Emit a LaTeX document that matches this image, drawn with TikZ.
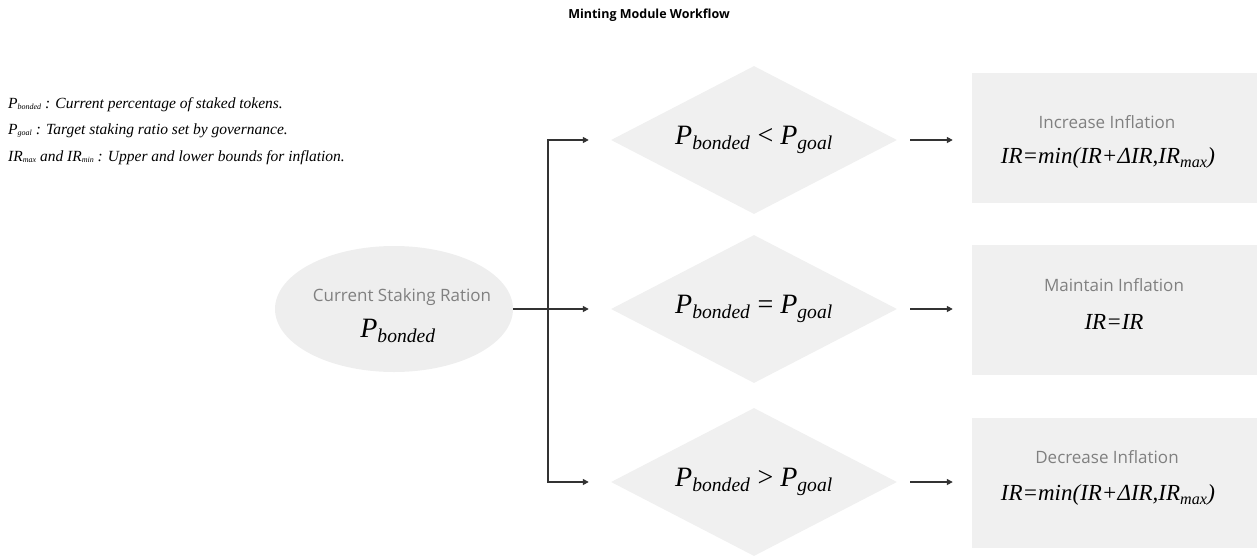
\documentclass[tikz,border=0pt]{standalone}
\usepackage{fontspec}
\setmainfont{Liberation Serif}
\setsansfont{Open Sans}
\usetikzlibrary{shapes.geometric,arrows.meta}
\definecolor{shapefill}{HTML}{F0F0F0}
\definecolor{ellfill}{HTML}{EEEEEE}
\definecolor{labelgray}{HTML}{808080}
\definecolor{linegray}{HTML}{333333}
\newcommand\fs[1]{\fontsize{#1}{#1}\selectfont}
\newcommand\tinysub[1]{\raisebox{-0.25ex}{\fontsize{8}{8}\selectfont #1}}
\tikzset{
  x=1pt, y=-1pt,
  decision/.style={diamond, fill=shapefill, draw=none, minimum width=286pt, minimum height=148pt, aspect=1.93, inner sep=0pt, font=\fs{28}\itshape},
  outcome/.style={rectangle, fill=shapefill, draw=none, minimum width=285pt, minimum height=130pt, inner sep=0pt},
  startell/.style={ellipse, fill=ellfill, draw=none, minimum width=238pt, minimum height=126pt, inner sep=0pt},
  slabel/.style={font=\sffamily\fs{17}, text=labelgray, inner sep=0pt},
  formula/.style={font=\fs{23}\itshape, inner sep=0pt},
  legend/.style={font=\fs{15.5}\itshape, anchor=base west, inner sep=0pt},
  arr/.style={draw=linegray, line width=1.5pt, -{Triangle[length=6pt,width=6pt]}},
  plain/.style={draw=linegray, line width=1.5pt},
}
\begin{document}
\begin{tikzpicture}
\useasboundingbox (0,0) rectangle (1257,557);
\node[font=\sffamily\bfseries\fs{12.5}, inner sep=0pt] (title) at (649,15) {Minting Module Workflow};

\node[legend] (leg1) at (8,108) {P\tinysub{bonded} : Current percentage of staked tokens.};
\node[legend] (leg2) at (8,134) {P\tinysub{goal} : Target staking ratio set by governance.};
\node[legend] (leg3) at (8,161) {IR\tinysub{max} and IR\tinysub{min} : Upper and lower bounds for inflation.};

\node[startell] (start) at (394,309) {};
\node[slabel] (startlbl) at (402,297) {Current Staking Ration};
\node[formula, font=\fs{28}\itshape] (startmath) at (398,331) {P\textsubscript{bonded}};

\node[decision] (d1) at (754,140) {P\textsubscript{bonded}\ \upshape<\ \itshape P\textsubscript{goal}};
\node[decision] (d2) at (754,309) {P\textsubscript{bonded}\ \upshape=\ \itshape P\textsubscript{goal}};
\node[decision] (d3) at (754,482) {P\textsubscript{bonded}\ \upshape>\ \itshape P\textsubscript{goal}};

\node[outcome] (o1) at (1114.5,138) {};
\node[outcome] (o2) at (1114.5,310) {};
\node[outcome] (o3) at (1114.5,483) {};

\node[slabel] (o1lbl) at (1107,122) {Increase Inflation};
\node[formula] (o1math) at (1108,158) {IR=min(IR+ΔIR,IR\textsubscript{max})};
\node[slabel] (o2lbl) at (1114,285) {Maintain Inflation};
\node[formula] (o2math) at (1114,322) {IR=IR};
\node[slabel] (o3lbl) at (1107,457) {Decrease Inflation};
\node[formula] (o3math) at (1108,495) {IR=min(IR+ΔIR,IR\textsubscript{max})};

\coordinate (split) at (548,309);
\draw[plain] (start.east) -- (split);
\draw[arr, shorten >=22pt] (split) |- (d1.west);
\draw[arr, shorten >=22pt] (start.east) -- (d2.west);
\draw[arr, shorten >=22pt] (split) |- (d3.west);

\draw[arr, shorten <=13pt, shorten >=19pt] (d1.east) -- (o1.west |- d1.east);
\draw[arr, shorten <=13pt, shorten >=19pt] (d2.east) -- (o2.west |- d2.east);
\draw[arr, shorten <=13pt, shorten >=19pt] (d3.east) -- (o3.west |- d3.east);
\end{tikzpicture}
\end{document}
